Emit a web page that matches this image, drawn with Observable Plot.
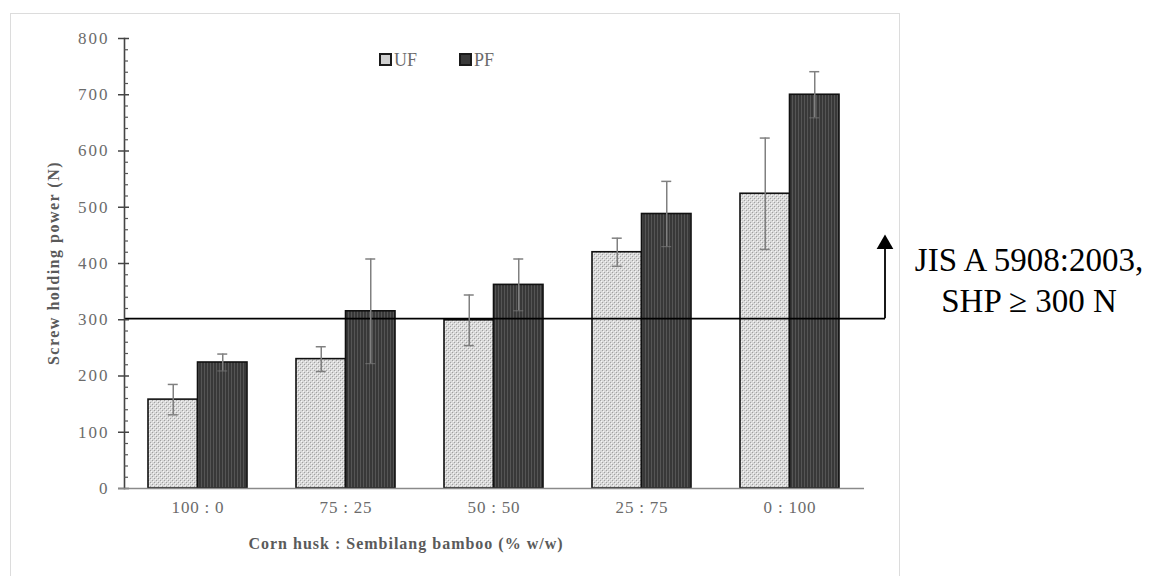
<!DOCTYPE html>
<html>
<head>
<meta charset="utf-8">
<script src="https://cdn.jsdelivr.net/npm/d3@7"></script>
<script src="https://cdn.jsdelivr.net/npm/@observablehq/plot@0.6"></script>
<style>
  body { margin: 0; background: #fff; }
  #wrap { position: relative; width: 1158px; height: 576px; overflow: hidden; font-family: "Liberation Serif", "Times New Roman", serif; }
  #box { position: absolute; left: 10px; top: 13px; width: 890px; height: 600px; border: 1px solid #dcdcdc; box-sizing: border-box; }
  .lbl { position: absolute; white-space: nowrap; }
  .sw { display: inline-block; width: 9px; height: 9px; border: 2px solid #1a1a1a; vertical-align: middle; margin-right: 2px; position: relative; top: -2px; }
</style>
</head>
<body>
<div id="wrap">
  <div id="box"></div>
  <div id="chart" style="position:absolute;left:0;top:0;"></div>
  <div class="lbl" id="legend" style="left:379px;top:50px;font-size:18px;color:#6b6b6b;">
    <span class="sw" style="background:#cfcfcf;"></span>UF<span style="display:inline-block;width:42px"></span><span class="sw" style="background:#3a3a3a;"></span>PF
  </div>
  <div class="lbl" id="ytitle" style="left:54px;top:263px;transform:translate(-50%,-50%) rotate(-90deg);font-size:16px;font-weight:bold;letter-spacing:1.5px;color:#5a5a5a;">Screw holding power (N)</div>
  <div class="lbl" id="xtitle" style="left:406px;top:544px;transform:translate(-50%,-50%);font-size:16px;font-weight:bold;letter-spacing:1px;color:#5a5a5a;">Corn husk : Sembilang bamboo (% w/w)</div>
  <div class="lbl" id="note" style="left:1029px;top:281px;transform:translate(-50%,-50%);font-size:33px;line-height:41px;text-align:center;color:#000;">JIS A 5908:2003,<br>SHP ≥ 300 N</div>
</div>
<script>
// ---- data ----
const categories = ["100 : 0", "75 : 25", "50 : 50", "25 : 75", "0 : 100"];
const ufMean = [158, 230, 299, 420, 524];
const ufErr  = [27, 22, 45, 25, 99];
const pfMean = [224, 315, 362, 488, 700];
const pfErr  = [15, 93, 46, 58, 41];
const yTicks = [0, 100, 200, 300, 400, 500, 600, 700, 800];
const threshold = 302;
const arrowTip = 452;

const uf = categories.map((c, i) => ({cat: c, v: ufMean[i], lo: ufMean[i] - ufErr[i], hi: ufMean[i] + ufErr[i]}));
const pf = categories.map((c, i) => ({cat: c, v: pfMean[i], lo: pfMean[i] - pfErr[i], hi: pfMean[i] + pfErr[i]}));

// ---- layout ----
const W = 1158, H = 576;
const mL = 124, mR = 294, mT = 38, mB = 88;
const frameW = W - mL - mR;
const pIn = 0.331, pOut = 0.1655;
const step = frameW / (categories.length - pIn + 2 * pOut);
const bw = step * (1 - pIn);
const capHalf = 5;
const lastCenter = mL + step * pOut + (categories.length - 1) * step + bw / 2;
const arrowX = 885;

const errStroke = "#808080";

const plot = Plot.plot({
  width: W, height: H,
  marginLeft: mL, marginRight: mR, marginTop: mT, marginBottom: mB,
  style: {fontFamily: "'Liberation Serif', 'Times New Roman', serif", fontSize: "17px", background: "transparent"},
  x: {domain: categories, paddingInner: pIn, paddingOuter: pOut, label: null},
  y: {domain: [0, 800], label: null},
  marks: [
    Plot.rectY(uf, {x: "cat", y: "v", fill: "url(#ufPat)", stroke: "#111", strokeWidth: 1.6, insetRight: bw / 2}),
    Plot.rectY(pf, {x: "cat", y: "v", fill: "url(#pfPat)", stroke: "#111", strokeWidth: 1.6, insetLeft: bw / 2}),
    Plot.ruleY([threshold], {stroke: "#000", strokeWidth: 1.8, insetRight: -(arrowX - (mL + frameW))}),
    Plot.ruleX([categories[categories.length - 1]], {y1: threshold, y2: arrowTip - 20, stroke: "#000", strokeWidth: 1.8, dx: arrowX - lastCenter}),
    Plot.dot([categories[categories.length - 1]], {x: d => d, y: arrowTip, symbol: "triangle", r: 6.2, fill: "#000", stroke: "none", dx: arrowX - lastCenter, dy: 10}),
    Plot.ruleX(uf, {x: "cat", y1: "lo", y2: "hi", dx: -bw / 4, stroke: errStroke, strokeWidth: 1.5}),
    Plot.ruleX(pf, {x: "cat", y1: "lo", y2: "hi", dx: bw / 4, stroke: errStroke, strokeWidth: 1.5}),
    Plot.tickY(uf, {x: "cat", y: "hi", stroke: errStroke, strokeWidth: 1.5, insetLeft: bw / 4 - capHalf, insetRight: 3 * bw / 4 - capHalf}),
    Plot.tickY(uf, {x: "cat", y: "lo", stroke: errStroke, strokeWidth: 1.5, insetLeft: bw / 4 - capHalf, insetRight: 3 * bw / 4 - capHalf}),
    Plot.tickY(pf, {x: "cat", y: "hi", stroke: errStroke, strokeWidth: 1.5, insetLeft: 3 * bw / 4 - capHalf, insetRight: bw / 4 - capHalf}),
    Plot.tickY(pf, {x: "cat", y: "lo", stroke: errStroke, strokeWidth: 1.2, strokeOpacity: 0.6, insetLeft: 3 * bw / 4 - capHalf, insetRight: bw / 4 - capHalf}),
    // y axis
    Plot.frame({anchor: "left", stroke: "#444", strokeWidth: 1.6}),
    Plot.tickY(d3.range(0, 801, 20).filter(v => v % 100 !== 0), {y: d => d, stroke: "#555", strokeWidth: 1.2, insetRight: frameW - 4}),
    Plot.tickY(yTicks, {y: d => d, stroke: "#444", strokeWidth: 1.5, insetLeft: -6, insetRight: frameW - 5}),
    Plot.axisY({ticks: yTicks, tickSize: 0, tickPadding: 15, fill: "#6b6b6b", label: null}),
    // x axis
    Plot.ruleY([0], {stroke: "#8a8a8a", strokeWidth: 1.6, insetLeft: -6}),
    Plot.axisX({tickSize: 0, tickPadding: 12, fill: "#6b6b6b", label: null})
  ]
});

// patterns
const defs = d3.select(plot).insert("defs", ":first-child");
const pu = defs.append("pattern").attr("id", "ufPat").attr("patternUnits", "userSpaceOnUse").attr("width", 4).attr("height", 4);
pu.append("rect").attr("width", 4).attr("height", 4).attr("fill", "#d9d9d9");
pu.append("rect").attr("x", 0).attr("y", 0).attr("width", 1).attr("height", 1).attr("fill", "#a0a0a0");
pu.append("rect").attr("x", 2).attr("y", 2).attr("width", 1).attr("height", 1).attr("fill", "#a0a0a0");
pu.append("rect").attr("x", 1).attr("y", 1).attr("width", 1).attr("height", 1).attr("fill", "#f6f6f6");
pu.append("rect").attr("x", 3).attr("y", 3).attr("width", 1).attr("height", 1).attr("fill", "#f6f6f6");
const pp = defs.append("pattern").attr("id", "pfPat").attr("patternUnits", "userSpaceOnUse").attr("width", 3).attr("height", 3);
pp.append("rect").attr("width", 3).attr("height", 3).attr("fill", "#383838");
pp.append("rect").attr("x", 0).attr("width", 1).attr("height", 3).attr("fill", "#555555");

// widen tick label spacing to match the reference's look
d3.select(plot).selectAll('g[aria-label="y-axis tick label"] text').style("letter-spacing", "2px").style("font-size", "17px");
d3.select(plot).selectAll('g[aria-label="x-axis tick label"] text').style("letter-spacing", "0.8px").style("font-size", "17px");

document.getElementById("chart").appendChild(plot);
</script>
</body>
</html>
